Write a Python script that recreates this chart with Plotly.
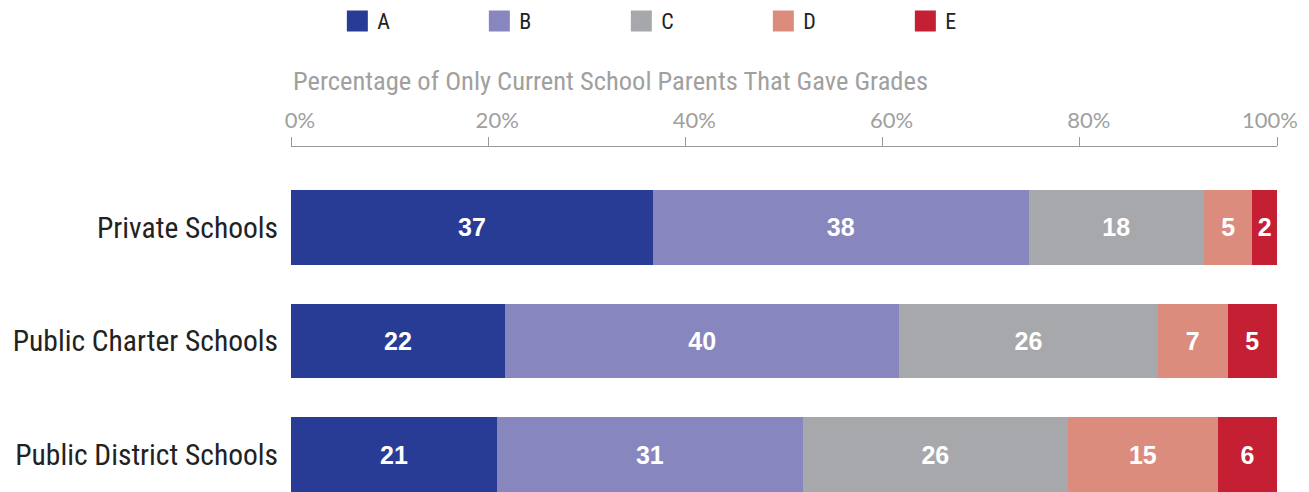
import plotly.graph_objects as go

categories = ["Private Schools", "Public Charter Schools", "Public District Schools"]
grades = ["A", "B", "C", "D", "E"]
colors = ["#283C96", "#8886BF", "#A7A8AB", "#DC8C7D", "#C41F33"]

# percentage shares per grade (bar lengths), rows follow categories
values_A = [36.7, 21.7, 20.9]
values_B = [38.1, 40.0, 31.0]
values_C = [17.8, 26.2, 26.9]
values_D = [4.9, 7.1, 15.2]
values_E = [2.5, 5.0, 6.0]
# printed labels
labels_A = [37, 22, 21]
labels_B = [38, 40, 31]
labels_C = [18, 26, 26]
labels_D = [5, 7, 15]
labels_E = [2, 5, 6]

tick_vals = [0, 20, 40, 60, 80, 100]
tick_text = ["0%", "20%", "40%", "60%", "80%", "100%"]
axis_title = "Percentage of Only Current School Parents That Gave Grades"

series_values = [values_A, values_B, values_C, values_D, values_E]
series_labels = [labels_A, labels_B, labels_C, labels_D, labels_E]

NARROW = "Liberation Sans Narrow, Arial Narrow, Roboto Condensed, sans-serif"
WIDE = "Lato, Open Sans, sans-serif"
AXIS_GRAY = "#999999"
TEXT_GRAY = "#A0A0A0"

fig = go.Figure()
for g, col, vals, labs in zip(grades, colors, series_values, series_labels):
    fig.add_trace(go.Bar(
        y=categories, x=vals, orientation="h", name=g,
        marker=dict(color=col, line=dict(width=0)),
        text=[str(v) for v in labs], textposition="inside",
        insidetextanchor="middle", constraintext="none",
        textfont=dict(color="white", size=25, family="Liberation Sans, Arial, sans-serif", weight="bold"),
        showlegend=False, legendgroup=g, hoverinfo="skip",
    ))
    fig.add_trace(go.Scatter(
        x=[None], y=[None], mode="markers", name=g, legendgroup=g,
        marker=dict(symbol="square", size=16, color=col, line=dict(color=col, width=8)),
        showlegend=True,
    ))

# empty trace so the overlaid top axis carrying the "100%" label is drawn
fig.add_trace(go.Scatter(x=[None], y=[None], xaxis="x2", mode="markers",
                         showlegend=False, hoverinfo="skip"))

common_x = dict(side="top", range=[0, 100], showgrid=False, zeroline=False,
                ticks="outside", ticklen=9, tickcolor=AXIS_GRAY, tickwidth=1.3,
                automargin=False, fixedrange=True,
                tickfont=dict(size=22, color=TEXT_GRAY, family=WIDE))

fig.update_layout(
    width=1309, height=492,
    margin=dict(l=283, r=40, t=139, b=8, autoexpand=False),
    paper_bgcolor="white", plot_bgcolor="white",
    barmode="stack", bargap=0.34,
    font=dict(family=NARROW, color="#222222"),
    legend=dict(orientation="h", x=0.047, xanchor="left", y=1.365, yanchor="middle",
                font=dict(size=22, color="#222222", family=NARROW),
                entrywidth=97, entrywidthmode="pixels", traceorder="normal"),
    xaxis=dict(**common_x, tickvals=tick_vals,
               ticktext=tick_text[:-1] + [""],
               showline=True, linecolor=AXIS_GRAY, linewidth=1.3,
               ticklabelshift=9),
    xaxis2=dict(**common_x, overlaying="x", anchor="y",
                tickvals=tick_vals[-1:], ticktext=tick_text[-1:],
                showline=False, ticklabelshift=-7),
    yaxis=dict(categoryorder="array", categoryarray=categories, range=[2.33, -0.709],
               showgrid=False, zeroline=False, showline=False, ticks="",
               ticklabelstandoff=12, automargin=False,
               tickfont=dict(size=29.5, color="#222222", family=NARROW), fixedrange=True),
    annotations=[dict(text=axis_title, x=0, xref="paper", xanchor="left",
                      y=1.194, yref="paper", yanchor="middle", showarrow=False,
                      font=dict(size=26.5, color=TEXT_GRAY, family=NARROW))],
)

fig.write_html("out.html")
